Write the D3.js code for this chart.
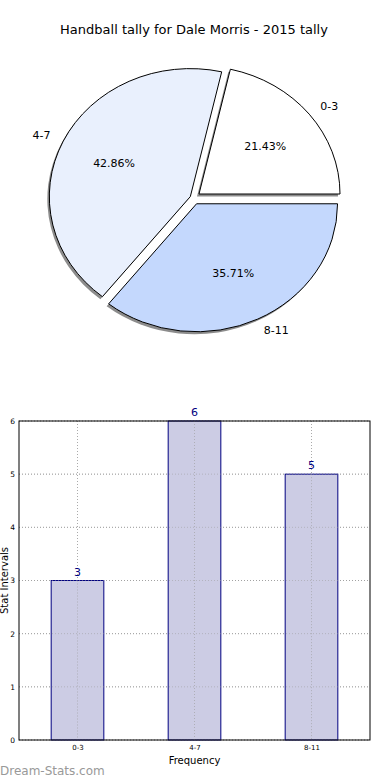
<!DOCTYPE html>
<html>
<head>
<meta charset="utf-8">
<script src="https://cdn.jsdelivr.net/npm/d3@7"></script>
<style>
body { margin: 0; background: #fff; }
text { font-family: "DejaVu Sans", sans-serif; }
</style>
</head>
<body>
<svg id="chart" width="390" height="780"></svg>
<script>
// data
var categories = ["0-3", "4-7", "8-11"];
var counts = [3, 6, 5];
var yTicks = [0, 1, 2, 3, 4, 5, 6];

var pieColors = ["#ffffff", "#e9f0fd", "#c4d8fd"];
var explode = [0.05, 0.025, 0.05];

var svg = d3.select("#chart");

svg.append("text")
  .attr("x", 194).attr("y", 34)
  .attr("text-anchor", "middle")
  .attr("font-size", 13)
  .text("Handball tally for Dale Morris - 2015 tally");

// ---- pie (slightly wider than tall, like the original)
var cx = 193.5, cy = 198, rx = 141, ry = 128;
var sx = rx / ry;
var total = d3.sum(counts);

var pie = d3.pie().sort(null)
  .startAngle(Math.PI / 2)
  .endAngle(Math.PI / 2 - 2 * Math.PI);
var arcs = pie(counts);
var arc = d3.arc().innerRadius(0).outerRadius(ry);

function offset(d, i) {
  var a = (d.startAngle + d.endAngle) / 2;
  return [cx + explode[i] * rx * Math.sin(a), cy - explode[i] * ry * Math.cos(a)];
}

var pieG = svg.append("g");

// shadows first
pieG.selectAll("path.shadow")
  .data(arcs)
  .enter()
  .append("path")
  .attr("class", "shadow")
  .attr("d", arc)
  .attr("transform", function(d, i) {
    var o = offset(d, i);
    return "translate(" + (o[0] - 2) + "," + (o[1] + 2.5) + ") scale(" + sx + ",1)";
  })
  .attr("fill", "#000")
  .attr("fill-opacity", 0.45);

pieG.selectAll("path.wedge")
  .data(arcs)
  .enter()
  .append("path")
  .attr("class", "wedge")
  .attr("d", arc)
  .attr("transform", function(d, i) {
    var o = offset(d, i);
    return "translate(" + o[0] + "," + o[1] + ") scale(" + sx + ",1)";
  })
  .attr("fill", function(d, i) { return pieColors[i]; })
  .attr("stroke", "#000")
  .attr("stroke-width", 1)
  .attr("vector-effect", "non-scaling-stroke")
  .attr("stroke-linejoin", "miter");

// labels outside at 1.1 r, percents at 0.6 r
arcs.forEach(function(d, i) {
  var o = offset(d, i);
  var a = (d.startAngle + d.endAngle) / 2;
  var lx = o[0] + 1.1 * rx * Math.sin(a);
  var ly = o[1] - 1.1 * ry * Math.cos(a);
  pieG.append("text")
    .attr("x", lx).attr("y", ly)
    .attr("dy", "0.35em")
    .attr("font-size", 11)
    .attr("text-anchor", Math.sin(a) >= 0 ? "start" : "end")
    .text(categories[i]);
  pieG.append("text")
    .attr("x", o[0] + 0.6 * rx * Math.sin(a))
    .attr("y", o[1] - 0.6 * ry * Math.cos(a))
    .attr("dy", "0.35em")
    .attr("font-size", 11)
    .attr("text-anchor", "middle")
    .text((counts[i] / total * 100).toFixed(2) + "%");
});

// ---- bar chart
var plotLeft = 19, plotRight = 370, plotTop = 421, plotBottom = 740;

var x = d3.scaleLinear().domain([-0.5, categories.length - 0.5]).range([plotLeft, plotRight]);
var y = d3.scaleLinear().domain([0, 6]).range([plotBottom, plotTop]);
var barW = 0.45;

var g = svg.append("g");

// grid
g.selectAll("line.gy")
  .data(yTicks)
  .enter()
  .append("line")
  .attr("x1", plotLeft).attr("x2", plotRight)
  .attr("y1", function(d) { return y(d); })
  .attr("y2", function(d) { return y(d); })
  .attr("stroke", "#aaa")
  .attr("stroke-dasharray", "1,2");

g.selectAll("line.gx")
  .data(categories)
  .enter()
  .append("line")
  .attr("x1", function(d, i) { return x(i); })
  .attr("x2", function(d, i) { return x(i); })
  .attr("y1", plotTop).attr("y2", plotBottom)
  .attr("stroke", "#aaa")
  .attr("stroke-dasharray", "1,2");

g.selectAll("rect.bar")
  .data(counts)
  .enter()
  .append("rect")
  .attr("class", "bar")
  .attr("x", function(d, i) { return x(i - barW / 2); })
  .attr("width", x(barW) - x(0))
  .attr("y", function(d) { return y(d); })
  .attr("height", function(d) { return plotBottom - y(d); })
  .attr("fill", "#cccce4")
  .attr("stroke", "#000080")
  .attr("stroke-width", 1);

// grid shows through bars in the original
g.selectAll("line.gx2")
  .data(categories)
  .enter()
  .append("line")
  .attr("x1", function(d, i) { return x(i); })
  .attr("x2", function(d, i) { return x(i); })
  .attr("y1", function(d, i) { return y(counts[i]); }).attr("y2", plotBottom)
  .attr("stroke", "#999")
  .attr("stroke-opacity", 0.6)
  .attr("stroke-dasharray", "1,2");

g.selectAll("line.gy2")
  .data(yTicks)
  .enter()
  .append("line")
  .attr("x1", plotLeft).attr("x2", plotRight)
  .attr("y1", function(d) { return y(d); })
  .attr("y2", function(d) { return y(d); })
  .attr("stroke", "#999")
  .attr("stroke-opacity", 0.5)
  .attr("stroke-dasharray", "1,2");

g.selectAll("text.val")
  .data(counts)
  .enter()
  .append("text")
  .attr("x", function(d, i) { return x(i); })
  .attr("y", function(d) { return y(d) - 5; })
  .attr("text-anchor", "middle")
  .attr("font-size", 11)
  .attr("fill", "#000080")
  .text(function(d) { return d; });

// frame
g.append("rect")
  .attr("x", plotLeft).attr("y", plotTop)
  .attr("width", plotRight - plotLeft).attr("height", plotBottom - plotTop)
  .attr("fill", "none")
  .attr("stroke", "#000")
  .attr("stroke-width", 1);

var yAxis = d3.axisLeft(y).tickValues(yTicks).tickSize(0).tickPadding(4).tickFormat(d3.format("d"));
g.append("g")
  .attr("transform", "translate(" + plotLeft + ",0)")
  .call(yAxis)
  .call(function(s) { s.select(".domain").remove(); })
  .selectAll("text")
  .attr("font-size", 7.5)
  .attr("font-family", "DejaVu Sans, sans-serif");

var xAxis = d3.axisBottom(x).tickValues(d3.range(categories.length)).tickSize(0).tickPadding(5)
  .tickFormat(function(d) { return categories[d]; });
g.append("g")
  .attr("transform", "translate(0," + plotBottom + ")")
  .call(xAxis)
  .call(function(s) { s.select(".domain").remove(); })
  .selectAll("text")
  .attr("font-size", 7)
  .attr("font-family", "DejaVu Sans, sans-serif");

svg.append("text")
  .attr("x", (plotLeft + plotRight) / 2).attr("y", 764)
  .attr("text-anchor", "middle")
  .attr("font-size", 10)
  .text("Frequency");

svg.append("text")
  .attr("transform", "translate(8," + ((plotTop + plotBottom) / 2) + ") rotate(-90)")
  .attr("text-anchor", "middle")
  .attr("font-size", 10)
  .text("Stat Intervals");

svg.append("text")
  .attr("x", 0).attr("y", 775)
  .attr("font-size", 12)
  .attr("fill", "#999")
  .text("Dream-Stats.com");
</script>
</body>
</html>
